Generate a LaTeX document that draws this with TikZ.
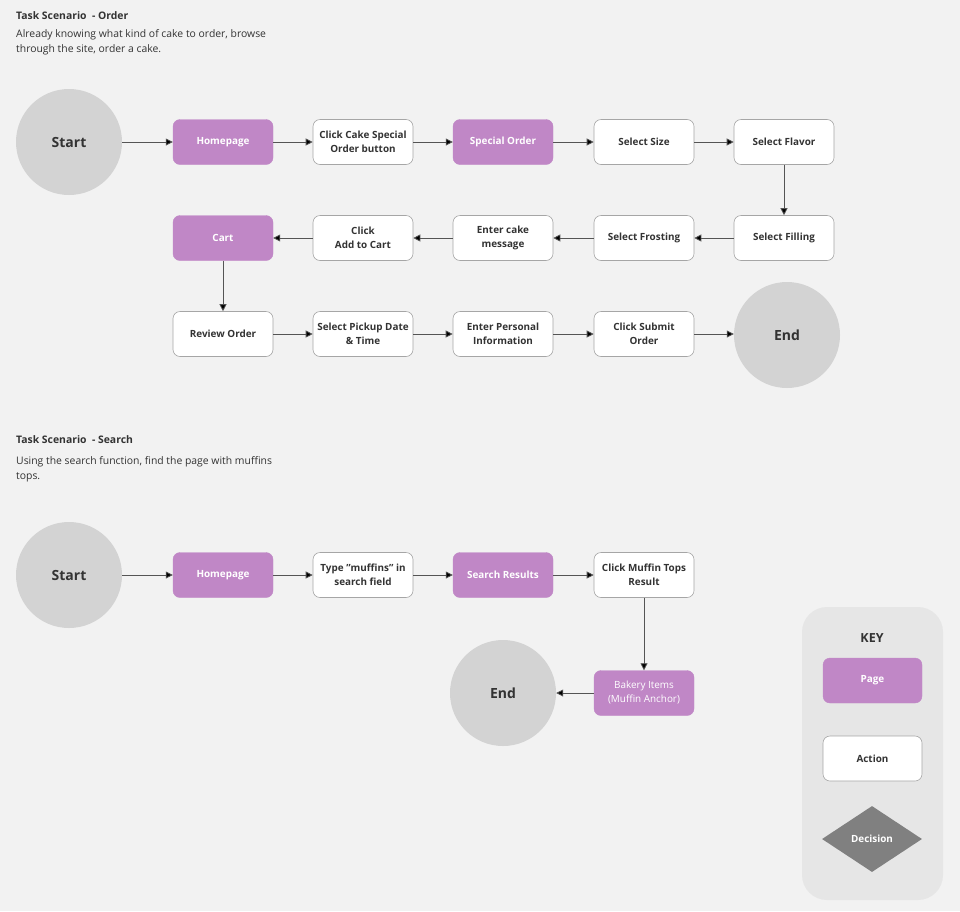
\documentclass[tikz,border=0pt]{standalone}
\usepackage{fontspec}
\setmainfont{Open Sans}
\usetikzlibrary{arrows.meta,shapes.geometric}
\definecolor{bg}{HTML}{F2F2F2}
\definecolor{pagec}{HTML}{C087C6}
\definecolor{circc}{HTML}{D3D3D3}
\definecolor{keybg}{HTML}{E6E6E6}
\definecolor{decc}{HTML}{808080}
\definecolor{boxline}{HTML}{A6A6A6}
\definecolor{linec}{HTML}{555555}
\definecolor{txt}{HTML}{333333}
\tikzset{
  base/.style={rounded corners=7pt, minimum width=100pt, minimum height=45pt, align=center, font=\fontsize{9.9}{14}\selectfont\bfseries, inner sep=1pt},
  pagebox/.style={base, fill=pagec, draw=pagec, text=white},
  actbox/.style={base, fill=white, draw=boxline, line width=0.6pt, text=txt},
  pagelight/.style={base, fill=pagec, draw=pagec, text=white, font=\fontsize{9.9}{14}\selectfont},
  termc/.style={circle, fill=circc, minimum size=106pt, inner sep=0pt, text=txt, font=\fontsize{14}{16}\selectfont\bfseries},
  arr/.style={draw=linec, line width=0.8pt, -{Triangle[length=7pt,width=7pt,fill=black]}},
  ttl/.style={anchor=west, inner sep=0pt, text=txt, font=\fontsize{10.4}{12}\selectfont\bfseries},
  desc/.style={anchor=west, inner sep=0pt, align=left, text=txt, font=\fontsize{10.4}{15}\selectfont},
}
\begin{document}
\begin{tikzpicture}[x=1pt,y=-1pt]
\fill[bg] (0,0) rectangle (960,911);
\useasboundingbox (0,0) rectangle (960,911);

% ---------- Order scenario ----------
\node[ttl] (t1) at (16,16) {Task Scenario~~- Order};
\node[desc] (d1a) at (16,35) {Already knowing what kind of cake to order, browse};
\node[desc] (d1b) at (16,50) {through the site, order a cake.};

\node[termc] (s1) at (69,142) {Start};
\node[pagebox] (hp1) at (223,142) {Homepage};
\node[actbox] (cc) at (363,142) {Click Cake Special\\Order button};
\node[pagebox] (so) at (503,142) {Special Order};
\node[actbox] (ssz) at (644,142) {Select Size};
\node[actbox] (sfl) at (784,142) {Select Flavor};

\node[actbox] (sfi) at (784,238) {Select Filling};
\node[actbox] (sfr) at (644,238) {Select Frosting};
\node[actbox] (ecm) at (503,238) {Enter cake\\message};
\node[actbox] (cac) at (363,238) {Click\\Add to Cart};
\node[pagebox] (cart) at (223,238) {Cart};

\node[actbox] (ro) at (223,334) {Review Order};
\node[actbox] (spd) at (363,334) {Select Pickup Date\\\& Time};
\node[actbox] (epi) at (503,334) {Enter Personal\\Information};
\node[actbox] (cso) at (644,334) {Click Submit\\Order};
\node[termc] (e1) at (787,335) {End};

\draw[arr] (s1) -- (hp1);
\draw[arr] (hp1) -- (cc);
\draw[arr] (cc) -- (so);
\draw[arr] (so) -- (ssz);
\draw[arr] (ssz) -- (sfl);
\draw[arr] (sfl) -- (sfi);
\draw[arr] (sfi) -- (sfr);
\draw[arr] (sfr) -- (ecm);
\draw[arr] (ecm) -- (cac);
\draw[arr] (cac) -- (cart);
\draw[arr] (cart) -- (ro);
\draw[arr] (ro) -- (spd);
\draw[arr] (spd) -- (epi);
\draw[arr] (epi) -- (cso);
\draw[arr] (cso) -- (cso -| e1.west);

% ---------- Search scenario ----------
\node[ttl] (t2) at (16,440) {Task Scenario~~- Search};
\node[desc] (d2a) at (16,462) {Using the search function, find the page with muffins};
\node[desc] (d2b) at (16,477) {tops.};

\node[termc] (s2) at (69,575) {Start};
\node[pagebox] (hp2) at (223,575) {Homepage};
\node[actbox] (tm) at (363,575) {Type \symbol{34}muffins\symbol{34} in\\search field};
\node[pagebox] (sr) at (503,575) {Search Results};
\node[actbox] (cmt) at (644,575) {Click Muffin Tops\\Result};
\node[pagelight] (bi) at (644,693) {Bakery Items\\(Muffin Anchor)};
\node[termc] (e2) at (503,693) {End};

\draw[arr] (s2) -- (hp2);
\draw[arr] (hp2) -- (tm);
\draw[arr] (tm) -- (sr);
\draw[arr] (sr) -- (cmt);
\draw[arr] (cmt) -- (bi);
\draw[arr] (bi) -- (e2);

% ---------- Key ----------
\node[fill=keybg, rounded corners=25pt, minimum width=141pt, minimum height=293pt, inner sep=0pt] (key) at (872.5,753.5) {};
\node[text=txt, font=\fontsize{12.5}{14}\selectfont\bfseries, inner sep=0pt] (kt) at (872,638) {KEY};
\node[pagebox, minimum width=99pt] (kp) at (872.5,680.5) {Page};
\node[actbox, minimum width=99pt] (ka) at (872.5,758.5) {Action};
\node[diamond, fill=decc, minimum width=100pt, minimum height=66pt, inner sep=0pt, aspect=1.5, text=white, font=\fontsize{9.9}{11}\selectfont\bfseries] (kd) at (872,839) {Decision};
\end{tikzpicture}
\end{document}
